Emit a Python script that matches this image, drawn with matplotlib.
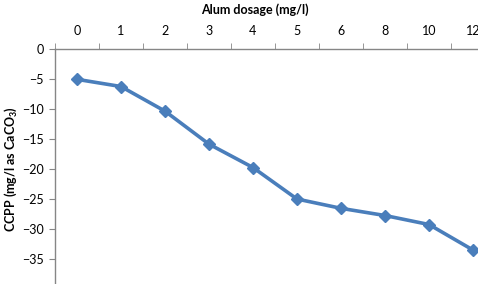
import numpy as np
import matplotlib
matplotlib.use('Agg')
import matplotlib.pyplot as plt

# Datos
dosis = ['0', '1', '2', '3', '4', '5', '6', '8', '10', '12']
ccpp = [-5.0, -6.2, -10.3, -15.8, -19.7, -24.95, -26.5, -27.7, -29.2, -33.45]
y_ticks = [0, -5, -10, -15, -20, -25, -30, -35]

plt.rcParams['font.family'] = ['Lato', 'DejaVu Sans']
plt.rcParams['mathtext.fontset'] = 'custom'
plt.rcParams['mathtext.rm'] = 'Lato'
plt.rcParams['mathtext.bf'] = 'Lato:bold'

fig = plt.figure(figsize=(4.78, 2.84), dpi=100)
ax = fig.add_axes([0.115, -0.0187, 0.9205, 0.845])

x = np.arange(len(dosis))
ax.plot(x, ccpp, '-D', color='#4A7EBB', linewidth=2.6, markersize=6.5,
        markerfacecolor='#4A7EBB', markeredgecolor='#4A7EBB')

ax.set_xlim(-0.5, len(dosis) - 0.5)
ax.set_ylim(-40, 0)

# Eje X arriba, estilo categorias
ax.xaxis.tick_top()
ax.set_xticks(x)
ax.set_xticklabels(dosis)
ax.set_xticks(np.arange(len(dosis) + 1) - 0.5, minor=True)
ax.tick_params(axis='x', which='major', length=0, pad=9, labelsize=9, colors='black')
ax.tick_params(axis='x', which='minor', length=4, color='#868686', direction='out')

ax.set_yticks(y_ticks)
ax.tick_params(axis='y', length=4, color='#868686', labelsize=9, pad=4)

for s in ['right', 'bottom']:
    ax.spines[s].set_visible(False)
for s in ['top', 'left']:
    ax.spines[s].set_color('#868686')
    ax.spines[s].set_linewidth(1.0)

fig.text(255 / 478, 1 - 10 / 284, 'Alum dosage (mg/l)', ha='center', va='center',
         fontsize=9, fontweight='bold')
fig.text(11 / 478, 1 - 169 / 284, r'CCPP (mg/l as CaCO$_\mathbf{3}$)', ha='center', va='center',
         rotation=90, fontsize=9, fontweight='bold')

plt.savefig('out.png', dpi=100)
plt.close()
